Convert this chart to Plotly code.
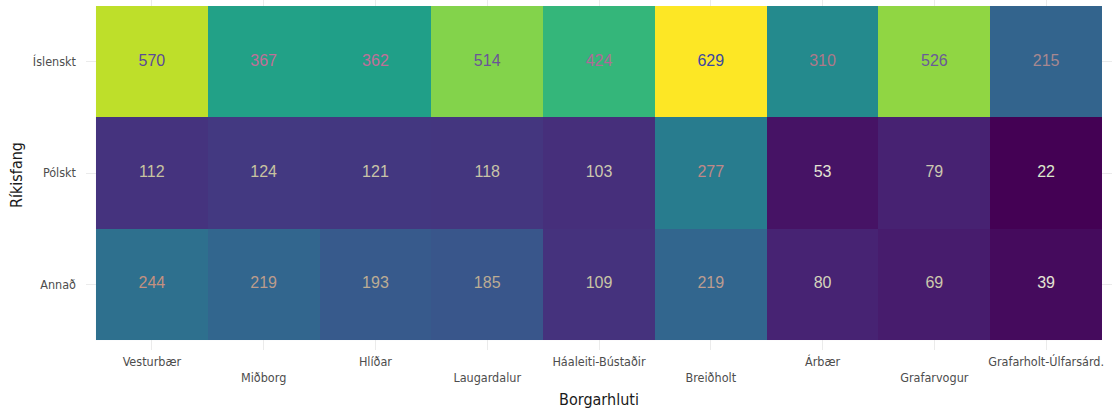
import plotly.graph_objects as go

districts = ["Vesturbær", "Miðborg", "Hlíðar", "Laugardalur", "Háaleiti-Bústaðir",
             "Breiðholt", "Árbær", "Grafarvogur", "Grafarholt-Úlfarsárd."]
groups = ["Annað", "Pólskt", "Íslenskt"]  # bottom to top

islenskt = [570, 367, 362, 514, 424, 629, 310, 526, 215]
polskt = [112, 124, 121, 118, 103, 277, 53, 79, 22]
annad = [244, 219, 193, 185, 109, 219, 80, 69, 39]

text_col_islenskt = ["#5b4a98", "#c06f98", "#c06f98", "#6a5598", "#b06a98",
                     "#3c48a0", "#b07888", "#6a5a98", "#a88890"]
text_col_polskt = ["#c8c4a0", "#c8c4a0", "#c8c4a8", "#c8c4a8", "#ccc8b0",
                   "#c08888", "#e4e4d4", "#ccc8b0", "#dce8cc"]
text_col_annad = ["#c49080", "#bc9c8c", "#bcac94", "#bcac94", "#c8c4a4",
                  "#bc9c90", "#d4d4bc", "#ccc8ac", "#e4e4d4"]

z = [annad, polskt, islenskt]

fig = go.Figure()
fig.add_trace(go.Heatmap(
    x=districts, y=groups, z=z,
    colorscale="Viridis", zmin=min(min(r) for r in z), zmax=max(max(r) for r in z),
    showscale=False, xgap=0, ygap=0, hoverinfo="x+y+z",
))

tx, ty, tt, tc = [], [], [], []
for g, vals, cols in zip(groups, z, [text_col_annad, text_col_polskt, text_col_islenskt]):
    for d, v, c in zip(districts, vals, cols):
        tx.append(d); ty.append(g); tt.append(str(v)); tc.append(c)

fig.add_trace(go.Scatter(
    x=tx, y=ty, text=tt, mode="text",
    textfont=dict(family="Liberation Sans, Arial, sans-serif", size=16, color=tc),
    hoverinfo="skip", showlegend=False,
))

ticktext = [d if i % 2 == 0 else "<br>" + d for i, d in enumerate(districts)]

axis_font = dict(family="Liberation Sans Narrow, DejaVu Sans Condensed, Roboto, sans-serif",
                 size=12.5, color="#4d4d4d")
title_font = dict(family="Liberation Sans Narrow, DejaVu Sans Condensed, Roboto, sans-serif",
                  size=16, color="#1a1a1a")

fig.update_layout(
    width=1114, height=415,
    margin=dict(l=86, r=2, t=0, b=65),
    paper_bgcolor="white", plot_bgcolor="white",
    showlegend=False,
    xaxis=dict(
        type="category", range=[-0.5 - 0.0894, 8.5 + 0.0894],
        tickvals=districts, ticktext=ticktext, automargin=False,
        showgrid=True, gridcolor="#ebebeb", gridwidth=1,
        zeroline=False, showline=False, ticks="", ticklen=0,
        tickfont=axis_font, ticklabelstandoff=2,
        title=dict(text="Borgarhluti", font=title_font, standoff=10),
    ),
    yaxis=dict(
        type="category", range=[-0.5 - 0.09, 2.5 + 0.054], automargin=False,
        showgrid=True, gridcolor="#ebebeb", gridwidth=1,
        zeroline=False, showline=False, ticks="", ticklen=0,
        tickfont=axis_font, ticklabelstandoff=9,
        title=dict(text="Ríkisfang", font=title_font, standoff=6),
    ),
)

fig.write_html("out.html", config={"displayModeBar": False},
               post_script="document.body.style.margin='0';document.body.style.overflow='hidden';")
